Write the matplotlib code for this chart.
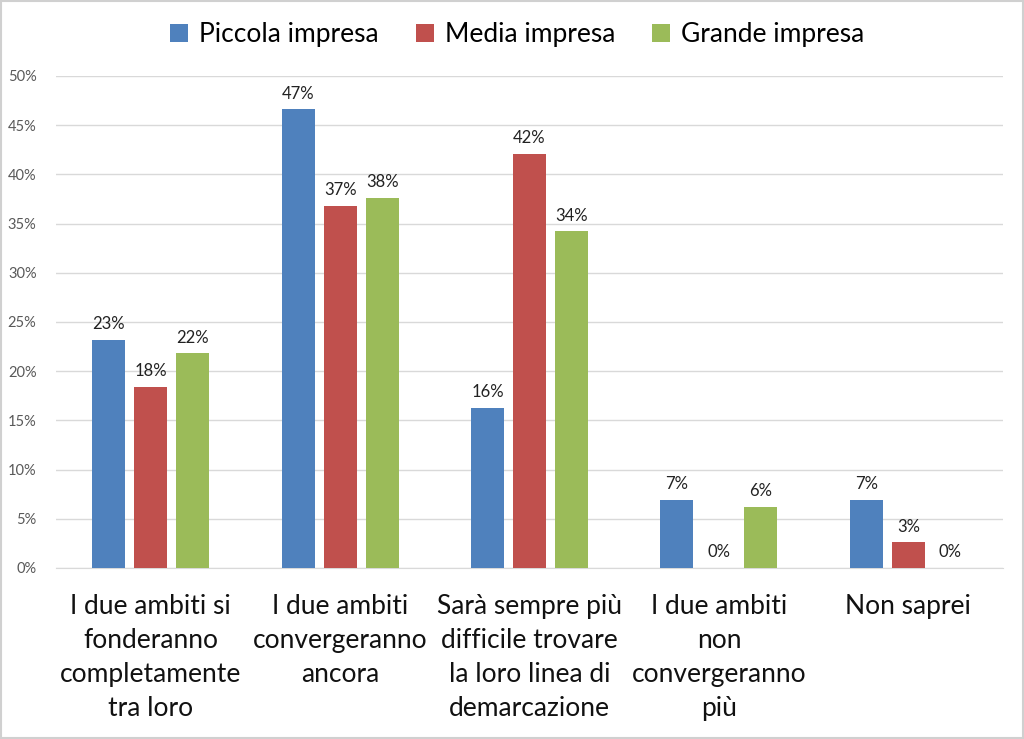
import matplotlib
matplotlib.use("Agg")
import matplotlib.pyplot as plt
from matplotlib.ticker import PercentFormatter
from matplotlib.patches import Rectangle
import numpy as np

plt.rcParams['font.family'] = ['Lato', 'DejaVu Sans']

categories = ["I due ambiti si\nfonderanno\ncompletamente\ntra loro",
              "I due ambiti\nconvergeranno\nancora",
              "Sarà sempre più\ndifficile trovare\nla loro linea di\ndemarcazione",
              "I due ambiti\nnon\nconvergeranno\npiù",
              "Non saprei"]
series_names = ["Piccola impresa", "Media impresa", "Grande impresa"]
piccola = [23.2, 46.6, 16.3, 6.9, 6.9]
media = [18.4, 36.8, 42.1, 0.0, 2.6]
grande = [21.8, 37.6, 34.2, 6.2, 0.0]
colors = ["#4F81BD", "#C0504D", "#9BBB59"]

fig = plt.figure(figsize=(10.24, 7.39), dpi=100)
ax = fig.add_axes([0.0547, 0.2314, 0.9248, 0.6658])

x = np.arange(len(categories))
w = 0.174
offs = [-0.222, 0.0, 0.222]
for vals, off, c, name in zip([piccola, media, grande], offs, colors, series_names):
    ax.bar(x + off, vals, width=w, color=c, label=name, zorder=3)
    for xi, v in zip(x + off, vals):
        ax.text(xi, v + 0.8, f"{round(v):.0f}%", ha='center', va='bottom',
                fontsize=12, color='#222222')

ax.set_xlim(-0.5, len(categories) - 0.5)
ax.set_ylim(0, 50)
ax.set_yticks(np.arange(0, 51, 5))
ax.yaxis.set_major_formatter(PercentFormatter(decimals=0))
ax.grid(axis='y', color='#D9D9D9', linewidth=1, zorder=0)
for s in ['top', 'right', 'left']:
    ax.spines[s].set_visible(False)
ax.spines['bottom'].set_color('#D9D9D9')
ax.tick_params(axis='y', length=0, labelsize=10.5, labelcolor='#595959', pad=14)
ax.tick_params(axis='x', length=0, labelsize=19, labelcolor='#111111', pad=19)
ax.set_xticks(x)
ax.set_xticklabels(categories, linespacing=1.45, va='top')

leg = fig.legend(loc='upper center', bbox_to_anchor=(0.505, 1.002), ncol=3, frameon=False,
                 fontsize=19, handlelength=0.7, handleheight=0.7, columnspacing=1.4,
                 handletextpad=0.4)

fig.patches.append(Rectangle((0.001, 0.001), 0.998, 0.998, transform=fig.transFigure,
                             fill=False, edgecolor='#D0D0D0', linewidth=1.5))

fig.savefig("out.png", dpi=100)
